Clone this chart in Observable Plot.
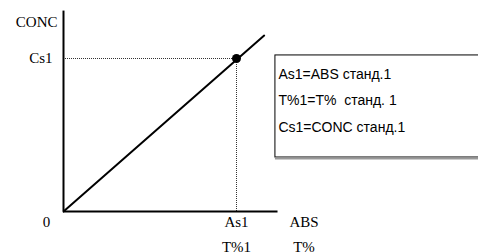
<!DOCTYPE html>
<html><head><meta charset="utf-8">
<script src="https://cdn.jsdelivr.net/npm/d3@7"></script>
<script src="https://cdn.jsdelivr.net/npm/@observablehq/plot@0.6"></script>
<style>html,body{margin:0;padding:0;background:#fff;overflow:hidden}</style>
</head><body><div id="chart"></div>
<script>
// Calibration line (abstract units, standard = 1)
const lineAbs = [0, 1.16];
const lineConc = [0, 1.15];
// Standard point
const stdAbs = [1];
const stdConc = [1];
// Axis extents
const xAxisEnd = 1.24;
const yAxisEnd = 1.31;
// Tick labels
const xTickPos = [1, 1.39];
const xTickLabels = ["As1", "ABS"];
const xTickLabels2 = ["T%1", "T%"];
const yTickPos = [1, 1.24];
const yTickLabels = ["Cs1", "CONC"];
const originLabel = ["0"];
// Legend box
const legendLines = ["As1=ABS станд.1", "T%1=T%  станд. 1", "Cs1=CONC станд.1"];
const legendBox = {x1: 1.225, x2: 3, y1: 0.353, y2: 1.02};

const serif = "'Liberation Serif', 'Times New Roman', serif";
const sans = "'Liberation Sans', Arial, sans-serif";

const lineData = lineAbs.map((a, i) => ({a, c: lineConc[i]}));
const stdData = stdAbs.map((a, i) => ({a, c: stdConc[i]}));
const xTicks = xTickPos.map((p, i) => ({p, t: xTickLabels[i], t2: xTickLabels2[i]}));

const chart = Plot.plot({
  width: 478,
  height: 252,
  margin: 0,
  x: {type: "linear", domain: [0, 1], range: [63, 236], axis: null},
  y: {type: "linear", domain: [0, 1], range: [211, 58], axis: null},
  style: {background: "#fff"},
  marks: [
    // legend box
    Plot.rect([legendBox], {x1: "x1", x2: "x2", y1: "y1", y2: "y2", fill: "#fff", stroke: "#000", strokeWidth: 1}),
    Plot.ruleY([legendBox.y1], {x1: legendBox.x1, x2: legendBox.x2, stroke: "#999", strokeWidth: 2, dy: 1}),
    Plot.text([legendLines.join("\n")], {
      x: legendBox.x1, y: legendBox.y2, text: d => d, textAnchor: "start", lineAnchor: "top",
      dx: 3, dy: 4, lineHeight: 1.92, fontFamily: sans, fontSize: 14, fill: "#000"
    }),
    // dotted guides
    Plot.ruleY(stdData, {y: "c", x1: 0, x2: "a", stroke: "#333", strokeWidth: 1, strokeDasharray: "1,1"}),
    Plot.ruleX(stdData, {x: "a", y1: 0, y2: "c", stroke: "#333", strokeWidth: 1, strokeDasharray: "1,1"}),
    // axes
    Plot.ruleY([0], {x1: 0, x2: xAxisEnd, stroke: "#000", strokeWidth: 2}),
    Plot.ruleX([0], {y1: 0, y2: yAxisEnd, stroke: "#000", strokeWidth: 2}),
    // calibration line
    Plot.line(lineData, {x: "a", y: "c", stroke: "#000", strokeWidth: 2}),
    Plot.dot(stdData, {x: "a", y: "c", r: 4.5, fill: "#000", stroke: "none"}),
    // x tick labels
    Plot.text(xTicks, {x: "p", y: 0, text: "t", lineAnchor: "bottom", dy: 15, fontFamily: serif, fontSize: 15, fill: "#000"}),
    Plot.text(xTicks, {x: "p", y: 0, text: "t2", lineAnchor: "bottom", dy: 40, fontFamily: serif, fontSize: 15, fill: "#000"}),
    Plot.text(originLabel, {x: 0, y: 0, text: d => d, lineAnchor: "bottom", dx: -17, dy: 15, fontFamily: serif, fontSize: 15, fill: "#000"}),
    // y tick labels
    Plot.text([yTickLabels[0]], {x: 0, y: yTickPos[0], text: d => d, textAnchor: "end", lineAnchor: "middle", dx: -11, fontFamily: serif, fontSize: 15, fill: "#000"}),
    Plot.text([yTickLabels[1]], {x: 0, y: yTickPos[1], text: d => d, textAnchor: "end", lineAnchor: "middle", dx: -6, fontFamily: serif, fontSize: 15, fill: "#000"})
  ]
});
document.getElementById("chart").appendChild(chart);
</script>
</body></html>
